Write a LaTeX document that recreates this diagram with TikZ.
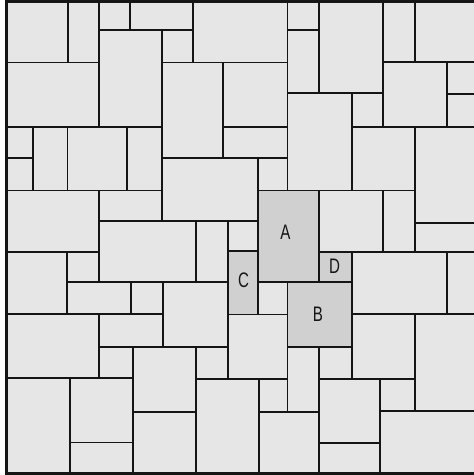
\documentclass[tikz,border=0pt]{standalone}
\usepackage{fontspec}
\setmainfont[FakeStretch=0.72]{Liberation Sans}
\definecolor{tilefill}{HTML}{E6E6E6}
\definecolor{markfill}{HTML}{D0D0D0}
\definecolor{edge}{HTML}{151515}
\tikzset{
  tile/.style={fill=tilefill, draw=edge, line width=1.8pt},
  marked/.style={fill=markfill, draw=edge, line width=1.8pt},
  lab/.style={font=\fontsize{21}{21}\selectfont, text=edge, inner sep=0pt}
}
\begin{document}
\begin{tikzpicture}[x=1pt,y=1pt]
\useasboundingbox (0,0) rectangle (474,-475);
\clip (0,0) rectangle (474,-475);
\foreach \a/\b/\c/\d in {
6/1.5/67.7/62.5, 67.7/1.5/99.3/62.5, 99.3/1.5/130.3/29.7, 130.3/1.5/192.7/29.7,
6/62.5/99.3/126.7, 99.3/29.7/162.3/126.7, 162.3/29.7/192.7/62.5, 192.7/1.5/287.5/62.5,
162.3/62.5/223.3/158.3, 223.3/62.5/287.5/126.7, 223.3/126.7/287.5/158.3,
287.5/1.5/319.3/29.7, 287.5/29.7/319.3/93.3, 319.3/1.5/383.3/93.3,
383.3/1.5/415.3/62.3, 415.3/1.5/480/62.3, 383.3/62.3/446.7/126.7,
446.7/62.3/480/94, 446.7/94/480/126.7, 351.7/93.3/383.3/126.7,
287.5/93.3/351.7/190.5, 351.7/126.7/414.7/190.5, 414.7/126.7/480/222.7,
414.7/222.7/480/251.7, 319.3/190.5/383.3/251.7, 383.3/190.5/414.7/251.7,
257.7/158.3/287.5/190.5,
6/126.7/33/157.7, 6/157.7/33/190.5, 33/126.7/67.5/190.5, 67.5/126.7/127.3/190.5,
127.3/126.7/162.3/190.5, 6/190.5/99.3/251.7, 99.3/190.5/162.3/221,
162.3/158.3/257.7/221, 99.3/221/195.7/281.7, 195.7/221/227.7/281.7,
227.7/221/257.7/250.7,
6/251.7/66.7/314, 66.7/251.7/99.3/281.7, 66.7/281.7/130.7/314, 130.7/281.7/163.3/314,
163.3/281.7/227.7/346.7, 257.7/282.3/287.5/314.5,
351.7/251.7/447.3/314, 447.3/251.7/480/314,
6/314/99.3/378.3, 99.3/314/163.3/346.7, 99.3/346.7/133.3/378.3, 133.3/346.7/195.7/411.7,
6/378.3/70/480, 70/378.3/133.3/442.5, 70/442.5/133.3/480, 133.3/411.7/195.7/480,
195.7/346.7/227.7/379.3, 227.7/314.5/287.5/379.3, 195.7/379.3/259/480,
259/379.3/287.5/411.7, 287.5/346.7/319.3/411.7, 259/411.7/319.3/480,
351.7/314/415/379.3, 319.3/346.7/351.7/379.3, 415/314/480/410.7,
380/379.3/415/410.7, 319.3/379.3/380/443.3, 319.3/443.3/380/480,
380/410.7/480/480}
  \draw[tile] (\a,-\b) rectangle (\c,-\d);
\draw[marked] (257.7,-190.5) rectangle (319.3,-282.3);
\draw[marked] (227.7,-250.7) rectangle (257.7,-314.5);
\draw[marked] (319.3,-251.7) rectangle (351.7,-282.3);
\draw[marked] (287.5,-282.3) rectangle (351.7,-346.7);
\node[lab] (la) at (285.5,-232.5) {A};
\node[lab] (lc) at (243.5,-280) {C};
\node[lab] (ld) at (334.5,-266.5) {D};
\node[lab] (lb) at (318,-314) {B};
\draw[edge, line width=3pt] (6,-1.2) rectangle (480,-473.8);
\end{tikzpicture}
\end{document}
